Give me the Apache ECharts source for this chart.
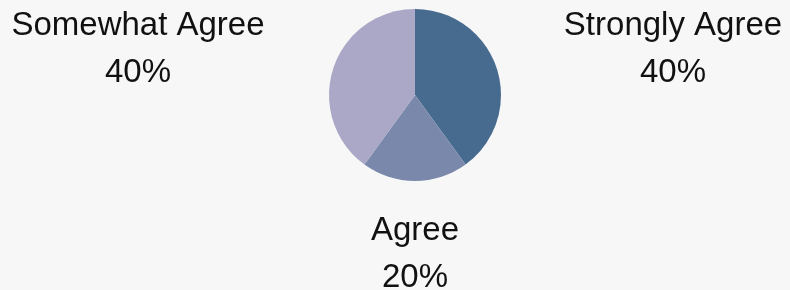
<!DOCTYPE html>
<html>
<head>
<meta charset="utf-8">
<script src="https://cdn.jsdelivr.net/npm/echarts@6/dist/echarts.min.js"></script>
<style>
  html, body { margin: 0; padding: 0; background: #f7f7f7; }
  #chart { width: 790px; height: 290px; }
</style>
</head>
<body>
<div id="chart"></div>
<script>
// survey answers, clockwise from 12 o'clock
const categories = ["Strongly Agree", "Agree", "Somewhat Agree"];
const shares = [40, 20, 40];
const colors = ["#476b8f", "#7a89ab", "#aba8c7"];
// where each label block sits (center x, middle y)
const labelSpots = [
  [673, 49],
  [415, 254],
  [138, 49],
];

const chart = echarts.init(document.getElementById("chart"));

chart.setOption({
  backgroundColor: "#f7f7f7",
  animation: false,
  series: [
    {
      type: "pie",
      center: [415, 95],
      radius: 86,
      startAngle: 90,
      clockwise: true,
      data: categories.map((name, i) => ({
        name,
        value: shares[i],
        itemStyle: { color: colors[i] },
      })),
      label: {
        show: true,
        position: "outside",
        formatter: "{b}\n{d}%",
        fontFamily: "Liberation Sans",
        fontSize: 33,
        lineHeight: 47,
        color: "#111",
        align: "center",
      },
      labelLine: { show: false },
      labelLayout: (params) => {
        const spot = labelSpots[params.dataIndex];
        return {
          x: spot[0],
          y: spot[1],
          align: "center",
          verticalAlign: "middle",
          hideOverlap: false,
        };
      },
      emphasis: { disabled: true },
    },
  ],
});
</script>
</body>
</html>
